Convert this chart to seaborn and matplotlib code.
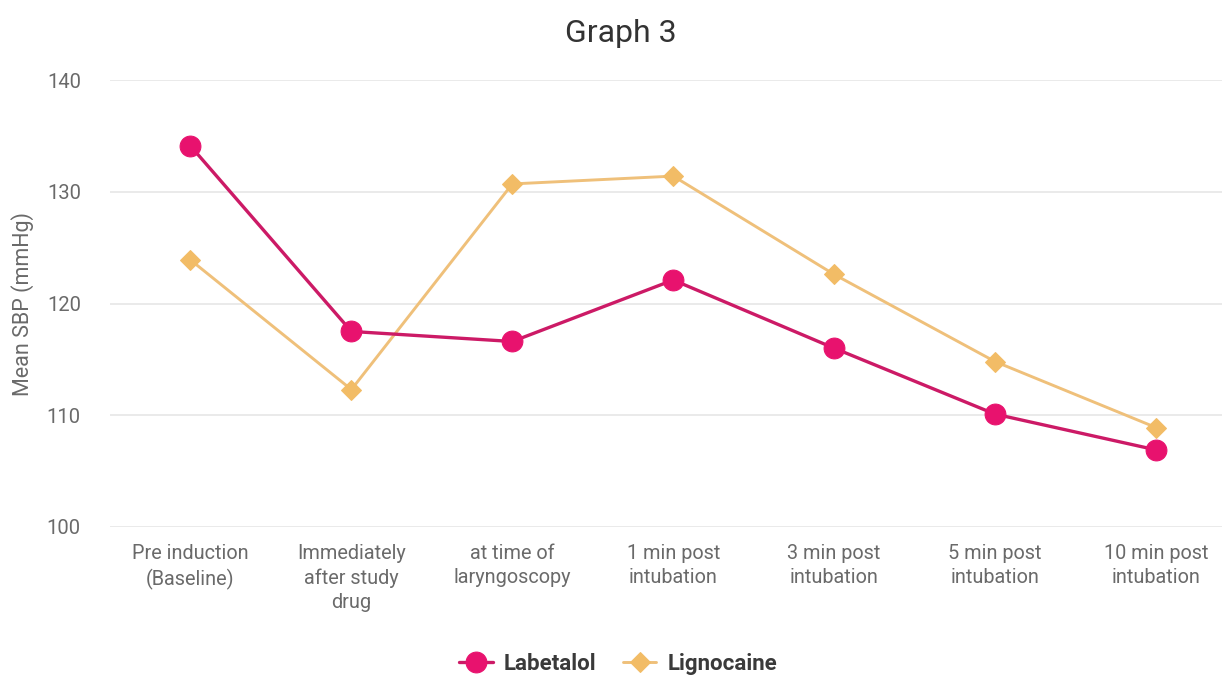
import matplotlib
matplotlib.use("Agg")
import matplotlib.pyplot as plt
import seaborn as sns
import pandas as pd

timepoints = [
    "Pre induction\n(Baseline)",
    "Immediately\nafter study\ndrug",
    "at time of\nlaryngoscopy",
    "1 min post\nintubation",
    "3 min post\nintubation",
    "5 min post\nintubation",
    "10 min post\nintubation",
]
labetalol = [134.1, 117.5, 116.6, 122.1, 116.0, 110.1, 106.9]
lignocaine = [123.9, 112.3, 130.7, 131.4, 122.6, 114.8, 108.9]
series_names = ["Labetalol", "Lignocaine"]
y_ticks = [100, 110, 120, 130, 140]

sns.set_theme(style="white")
plt.rcParams["font.family"] = ["Roboto", "DejaVu Sans"]

df = pd.DataFrame({
    "x": list(range(len(timepoints))) * 2,
    "value": labetalol + lignocaine,
    "series": [series_names[0]] * len(labetalol) + [series_names[1]] * len(lignocaine),
})

fig = plt.figure(figsize=(12.22, 6.75), dpi=100)
ax = fig.add_axes([110 / 1222, 148 / 675, 1 - 110 / 1222, (527 - 80) / 675])

line_colors = {"Labetalol": "#CC1A66", "Lignocaine": "#EFC07A"}
marker_colors = {"Labetalol": "#E8126E", "Lignocaine": "#F2BC66"}
markers = {"Labetalol": "o", "Lignocaine": "D"}
sizes = {"Labetalol": 15, "Lignocaine": 10}
widths = {"Labetalol": 2.4, "Lignocaine": 2.1}

for name in series_names:
    sub = df[df["series"] == name]
    sns.lineplot(data=sub, x="x", y="value", ax=ax, color=line_colors[name],
                 linewidth=widths[name], marker=markers[name], markersize=sizes[name],
                 markerfacecolor=marker_colors[name], markeredgecolor=marker_colors[name],
                 label=name, legend=False, zorder=3 if name == "Labetalol" else 2)

ax.set_xlim(-0.5, 6.41)
ax.set_ylim(100, 140)
ax.set_yticks(y_ticks)
ax.set_yticklabels([str(t) for t in y_ticks], fontsize=14.5, color="#6a6a6a")
ax.set_xticks(range(len(timepoints)))
ax.set_xticklabels(timepoints, fontsize=14.3, color="#6a6a6a", linespacing=1.32)
ax.tick_params(axis="x", length=0, pad=12.5)
ax.tick_params(axis="y", length=0, pad=21)
ax.set_xlabel("")
ax.set_ylabel("Mean SBP (mmHg)", fontsize=15.5, color="#6a6a6a", labelpad=9)
ax.yaxis.grid(True, color="#E6E6E6", linewidth=1.2)
ax.xaxis.grid(False)
for s in ax.spines.values():
    s.set_visible(False)

fig.text(0.508, 0.951, "Graph 3", ha="center", va="center", fontsize=23, color="#333333")

handles, labels = ax.get_legend_handles_labels()
leg = fig.legend(handles, labels, loc="center", bbox_to_anchor=(0.506, 0.016), ncol=2,
                 frameon=False, fontsize=16, handlelength=1.5, columnspacing=1.2,
                 handletextpad=0.5)
for t in leg.get_texts():
    t.set_fontweight("bold")
    t.set_color("#3a3a3a")

fig.savefig("out.png", dpi=100, facecolor="white")
